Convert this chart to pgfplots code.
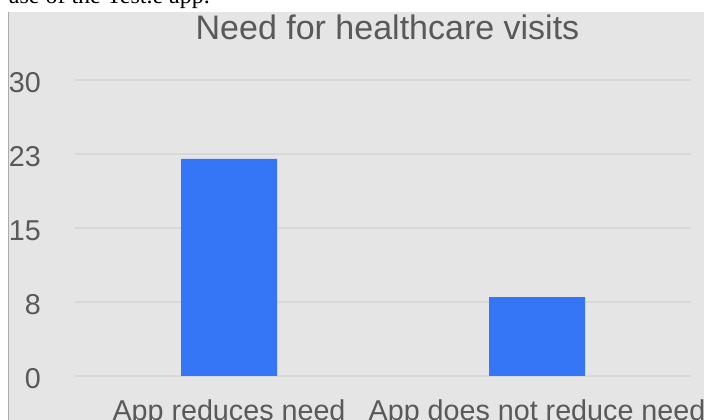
\documentclass[border=0pt]{standalone}
\usepackage{fontspec}
\setmainfont{Liberation Sans}
\newfontfamily\bodyserif{Liberation Serif}
\usepackage{pgfplots}
\pgfplotsset{compat=1.18}

\definecolor{panelgray}{HTML}{E5E5E5}
\definecolor{gridgray}{HTML}{D8D8D8}
\definecolor{bordergray}{HTML}{ABABAB}
\definecolor{labelgray}{HTML}{595959}
\definecolor{barblue}{HTML}{3476F6}

\begin{document}
\begin{tikzpicture}[x=1pt,y=1pt]
  % page frame and grey chart panel
  \path[use as bounding box] (0,0) rectangle (704,420);
  \fill[white] (0,0) rectangle (704,420);
  \fill[panelgray] (8,0) rectangle (704,408);
  \draw[bordergray, line width=1pt] (8.5,0) -- (8.5,408);

  % end of the sentence above the chart
  \begin{scope}
    \clip (0,408) rectangle (704,420);
    \node[anchor=base east, inner sep=0pt, font=\bodyserif\fontsize{24}{28}\selectfont]
      at (210,416) {ase of the Test.e app.};
  \end{scope}

  \begin{axis}[
      at={(75pt,44pt)}, anchor=south west,
      scale only axis,
      width=616pt, height=296pt,
      xmin=-0.5, xmax=1.5,
      ymin=0, ymax=30,
      axis line style={draw=none},
      tick style={draw=none},
      ymajorgrids,
      grid style={gridgray, line width=2.6pt},
      ytick={0,7.5,15,22.5,30},
      yticklabels={0,8,15,23,30},
      xtick={0,1},
      xticklabels={App reduces need, App does not reduce need},
      /pgf/number format/assume math mode=true,
      ticklabel style={font=\fontsize{28.7}{34}\selectfont, text=labelgray},
      yticklabel style={anchor=east, inner sep=0pt, xshift=-34pt, yshift=-3pt},
      xticklabel style={anchor=base, inner sep=0pt, yshift=-40pt},
      ybar, bar width=96pt,
      clip=false,
    ]
    \addplot[fill=barblue, draw=none] coordinates {(0,22) (1,8)};
  \end{axis}

  \node[anchor=base, inner sep=0pt, text=labelgray, font=\fontsize{34}{40}\selectfont]
    at (387.5,380) {Need for healthcare visits};
\end{tikzpicture}
\end{document}
